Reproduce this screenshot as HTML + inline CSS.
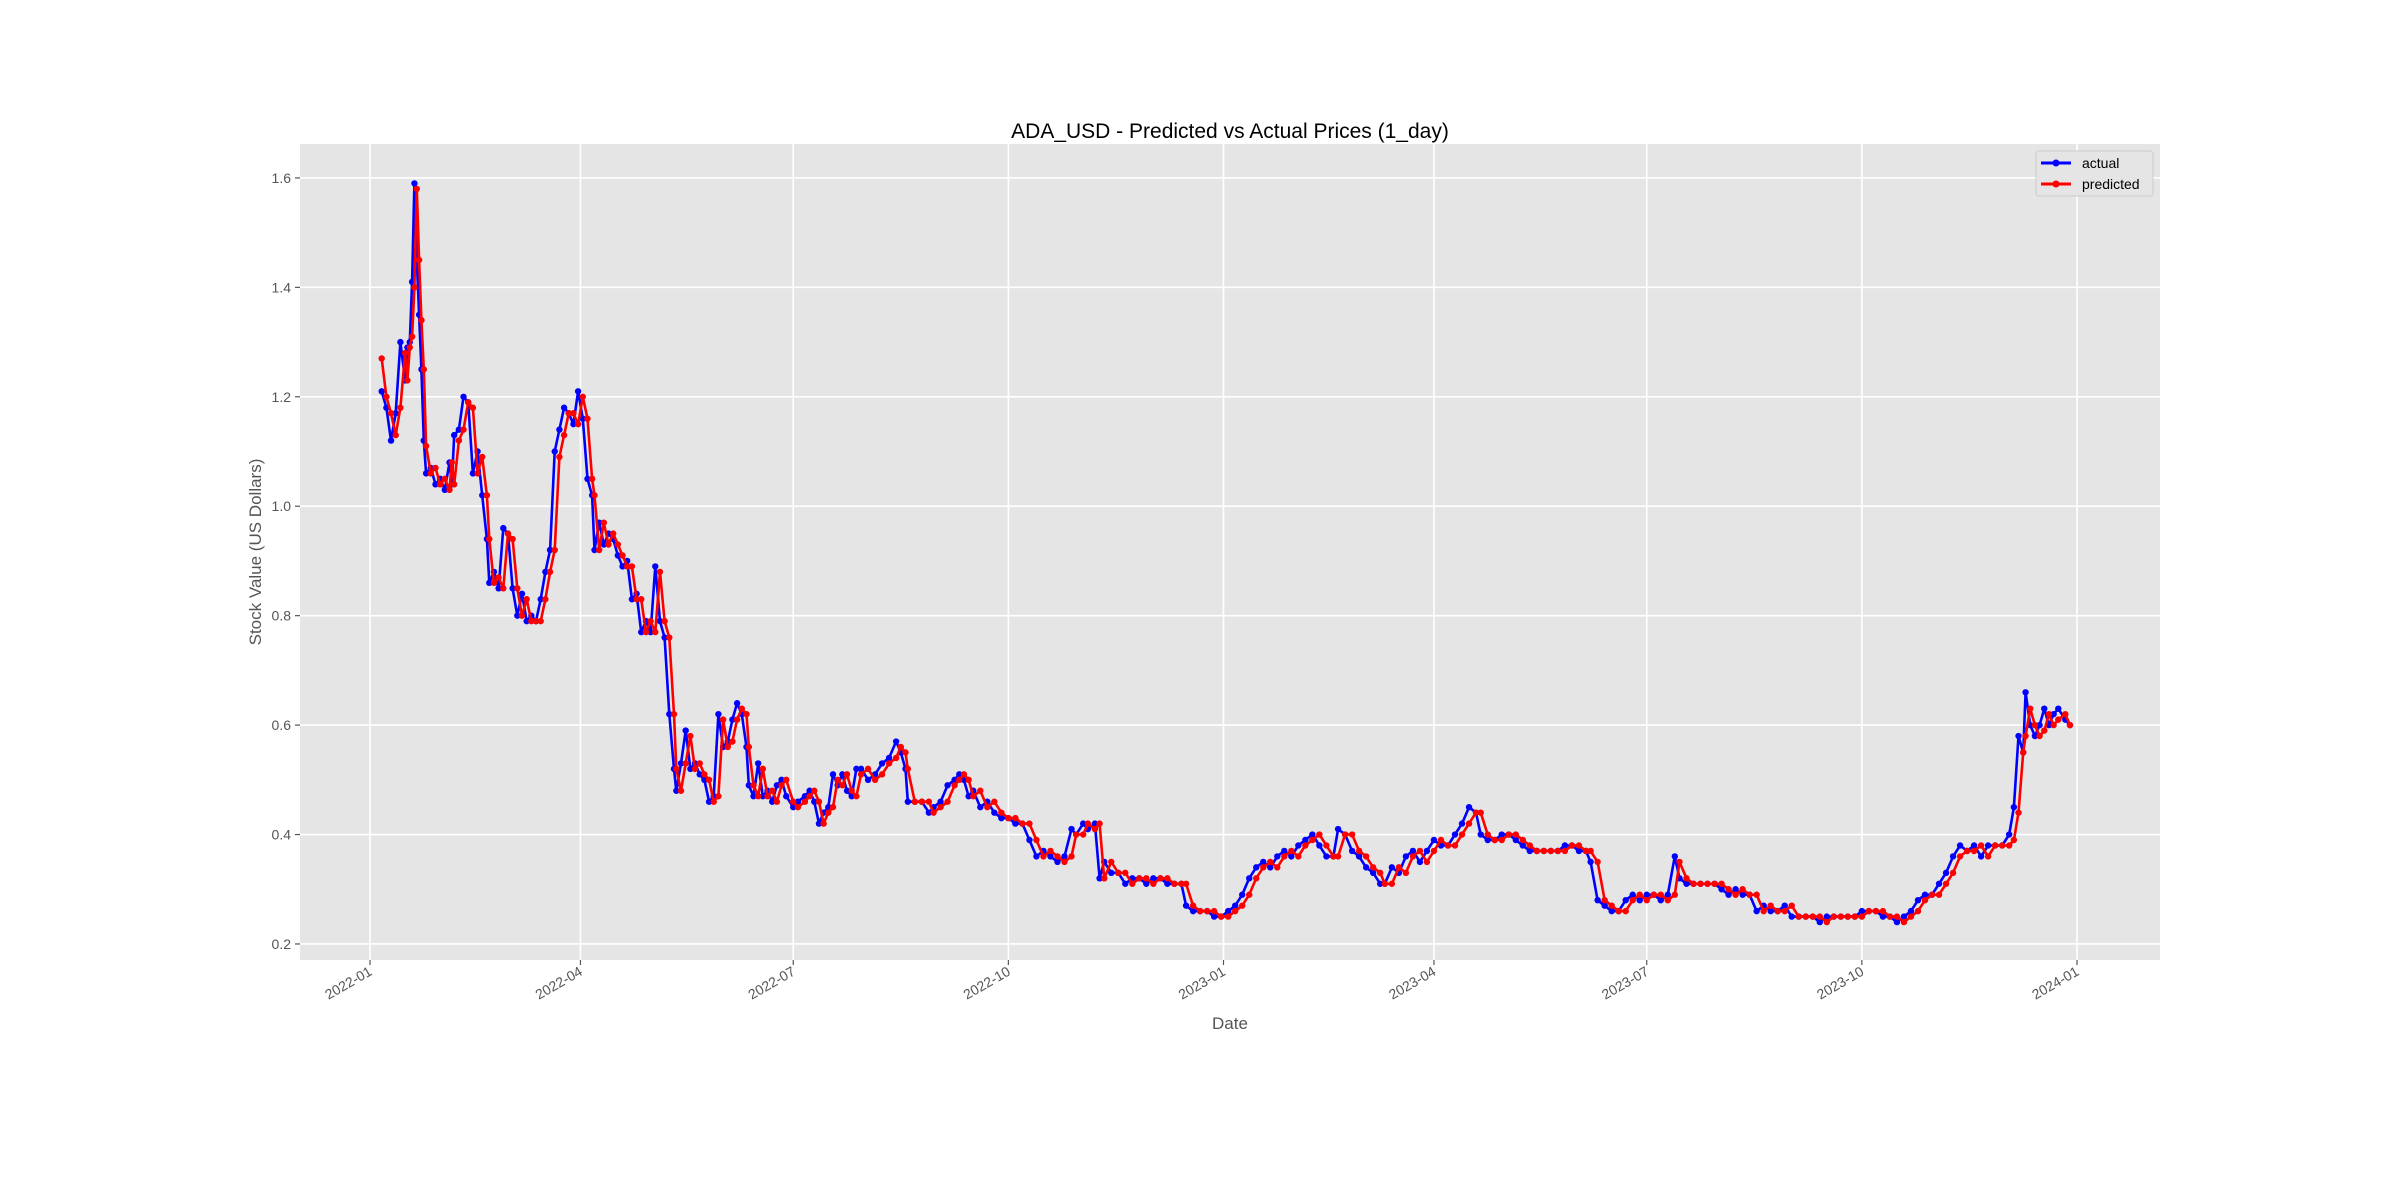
<!DOCTYPE html>
<html><head><meta charset="utf-8"><title>ADA_USD Predicted vs Actual</title>
<style>html,body{margin:0;padding:0;background:#fff}svg{display:block;font-family:"Liberation Sans",sans-serif}</style>
</head><body>
<svg id="chart" width="2400" height="1200" viewBox="0 0 2400 1200" xmlns="http://www.w3.org/2000/svg">
<rect x="0" y="0" width="2400" height="1200" fill="#fff"/>
<rect x="300" y="144" width="1860" height="816" fill="#E5E5E5"/>
<g id="grid"></g>
<g id="series"></g>
<g id="axes"></g>
<text x="1230" y="138" text-anchor="middle" font-size="21" fill="#000">ADA_USD - Predicted vs Actual Prices (1_day)</text>
<text x="1230" y="1029" text-anchor="middle" font-size="17" fill="#555">Date</text>
<text transform="translate(261,552) rotate(-90)" text-anchor="middle" font-size="17" fill="#555">Stock Value (US Dollars)</text>
<g>
<rect x="2036" y="151" width="117" height="45" rx="3" fill="#E5E5E5" stroke="#ccc" stroke-width="1"/>
<g>
<line x1="2041" y1="163" x2="2071" y2="163" stroke="#0000ff" stroke-width="3"/><circle cx="2056" cy="163" r="3.5" fill="#0000ff"/>
<text x="2082" y="168" font-size="14" fill="#000">actual</text></g>
<g>
<line x1="2041" y1="184" x2="2071" y2="184" stroke="#ff0000" stroke-width="3"/><circle cx="2056" cy="184" r="3.5" fill="#ff0000"/>
<text x="2082" y="189" font-size="14" fill="#000">predicted</text></g>
</g>
</svg>
<script>
const dates=["2022-01-06","2022-01-08","2022-01-10","2022-01-12","2022-01-14","2022-01-16","2022-01-17","2022-01-18","2022-01-19","2022-01-20","2022-01-21","2022-01-22","2022-01-23","2022-01-24","2022-01-25","2022-01-27","2022-01-29","2022-01-31","2022-02-02","2022-02-04","2022-02-05","2022-02-06","2022-02-08","2022-02-10","2022-02-12","2022-02-14","2022-02-16","2022-02-18","2022-02-20","2022-02-21","2022-02-23","2022-02-25","2022-02-27","2022-03-01","2022-03-03","2022-03-05","2022-03-07","2022-03-09","2022-03-11","2022-03-13","2022-03-15","2022-03-17","2022-03-19","2022-03-21","2022-03-23","2022-03-25","2022-03-27","2022-03-29","2022-03-31","2022-04-02","2022-04-04","2022-04-06","2022-04-07","2022-04-09","2022-04-11","2022-04-13","2022-04-15","2022-04-17","2022-04-19","2022-04-21","2022-04-23","2022-04-25","2022-04-27","2022-04-29","2022-05-01","2022-05-03","2022-05-05","2022-05-07","2022-05-09","2022-05-11","2022-05-12","2022-05-14","2022-05-16","2022-05-18","2022-05-20","2022-05-22","2022-05-24","2022-05-26","2022-05-28","2022-05-30","2022-06-01","2022-06-03","2022-06-05","2022-06-07","2022-06-09","2022-06-11","2022-06-12","2022-06-14","2022-06-16","2022-06-18","2022-06-20","2022-06-22","2022-06-24","2022-06-26","2022-06-28","2022-07-01","2022-07-03","2022-07-06","2022-07-08","2022-07-10","2022-07-12","2022-07-14","2022-07-16","2022-07-18","2022-07-20","2022-07-22","2022-07-24","2022-07-26","2022-07-28","2022-07-30","2022-08-02","2022-08-05","2022-08-08","2022-08-11","2022-08-14","2022-08-16","2022-08-18","2022-08-19","2022-08-22","2022-08-25","2022-08-28","2022-08-30","2022-09-02","2022-09-05","2022-09-08","2022-09-10","2022-09-12","2022-09-14","2022-09-16","2022-09-19","2022-09-22","2022-09-25","2022-09-28","2022-10-01","2022-10-04","2022-10-07","2022-10-10","2022-10-13","2022-10-16","2022-10-19","2022-10-22","2022-10-25","2022-10-28","2022-10-30","2022-11-02","2022-11-04","2022-11-07","2022-11-09","2022-11-11","2022-11-14","2022-11-17","2022-11-20","2022-11-23","2022-11-26","2022-11-29","2022-12-02","2022-12-05","2022-12-08","2022-12-11","2022-12-14","2022-12-16","2022-12-19","2022-12-22","2022-12-25","2022-12-28","2022-12-31","2023-01-03","2023-01-06","2023-01-09","2023-01-12","2023-01-15","2023-01-18","2023-01-21","2023-01-24","2023-01-27","2023-01-30","2023-02-02","2023-02-05","2023-02-08","2023-02-11","2023-02-14","2023-02-17","2023-02-19","2023-02-22","2023-02-25","2023-02-28","2023-03-03","2023-03-06","2023-03-09","2023-03-11","2023-03-14","2023-03-17","2023-03-20","2023-03-23","2023-03-26","2023-03-29","2023-04-01","2023-04-04","2023-04-07","2023-04-10","2023-04-13","2023-04-16","2023-04-19","2023-04-21","2023-04-24","2023-04-27","2023-04-30","2023-05-03","2023-05-06","2023-05-09","2023-05-12","2023-05-15","2023-05-18","2023-05-21","2023-05-24","2023-05-27","2023-05-30","2023-06-02","2023-06-05","2023-06-07","2023-06-10","2023-06-13","2023-06-16","2023-06-19","2023-06-22","2023-06-25","2023-06-28","2023-07-01","2023-07-04","2023-07-07","2023-07-10","2023-07-13","2023-07-15","2023-07-18","2023-07-21","2023-07-24","2023-07-27","2023-07-30","2023-08-02","2023-08-05","2023-08-08","2023-08-11","2023-08-14","2023-08-17","2023-08-20","2023-08-23","2023-08-26","2023-08-29","2023-09-01","2023-09-04","2023-09-07","2023-09-10","2023-09-13","2023-09-16","2023-09-19","2023-09-22","2023-09-25","2023-09-28","2023-10-01","2023-10-04","2023-10-07","2023-10-10","2023-10-13","2023-10-16","2023-10-19","2023-10-22","2023-10-25","2023-10-28","2023-10-31","2023-11-03","2023-11-06","2023-11-09","2023-11-12","2023-11-15","2023-11-18","2023-11-21","2023-11-24","2023-11-27","2023-11-30","2023-12-03","2023-12-05","2023-12-07","2023-12-09","2023-12-10","2023-12-12","2023-12-14","2023-12-16","2023-12-18","2023-12-20","2023-12-22","2023-12-24","2023-12-27","2023-12-29"];
const actual=[1.21,1.18,1.12,1.17,1.30,1.23,1.29,1.30,1.41,1.59,1.45,1.35,1.25,1.12,1.06,1.07,1.04,1.05,1.03,1.08,1.04,1.13,1.14,1.20,1.19,1.06,1.10,1.02,0.94,0.86,0.88,0.85,0.96,0.95,0.85,0.80,0.84,0.79,0.80,0.79,0.83,0.88,0.92,1.10,1.14,1.18,1.17,1.15,1.21,1.16,1.05,1.02,0.92,0.97,0.93,0.95,0.94,0.91,0.89,0.90,0.83,0.84,0.77,0.79,0.77,0.89,0.79,0.76,0.62,0.52,0.48,0.53,0.59,0.52,0.53,0.51,0.50,0.46,0.47,0.62,0.56,0.57,0.61,0.64,0.62,0.56,0.49,0.47,0.53,0.47,0.48,0.46,0.49,0.50,0.47,0.45,0.46,0.47,0.48,0.46,0.42,0.44,0.45,0.51,0.49,0.51,0.48,0.47,0.52,0.52,0.50,0.51,0.53,0.54,0.57,0.55,0.52,0.46,0.46,0.46,0.44,0.45,0.46,0.49,0.50,0.51,0.50,0.47,0.48,0.45,0.46,0.44,0.43,0.43,0.42,0.42,0.39,0.36,0.37,0.36,0.35,0.36,0.41,0.40,0.42,0.41,0.42,0.32,0.35,0.33,0.33,0.31,0.32,0.32,0.31,0.32,0.32,0.31,0.31,0.31,0.27,0.26,0.26,0.26,0.25,0.25,0.26,0.27,0.29,0.32,0.34,0.35,0.34,0.36,0.37,0.36,0.38,0.39,0.40,0.38,0.36,0.36,0.41,0.40,0.37,0.36,0.34,0.33,0.31,0.31,0.34,0.33,0.36,0.37,0.35,0.37,0.39,0.38,0.38,0.40,0.42,0.45,0.44,0.40,0.39,0.39,0.40,0.40,0.39,0.38,0.37,0.37,0.37,0.37,0.37,0.38,0.38,0.37,0.37,0.35,0.28,0.27,0.26,0.26,0.28,0.29,0.28,0.29,0.29,0.28,0.29,0.36,0.32,0.31,0.31,0.31,0.31,0.31,0.30,0.29,0.30,0.29,0.29,0.26,0.27,0.26,0.26,0.27,0.25,0.25,0.25,0.25,0.24,0.25,0.25,0.25,0.25,0.25,0.26,0.26,0.26,0.25,0.25,0.24,0.25,0.26,0.28,0.29,0.29,0.31,0.33,0.36,0.38,0.37,0.38,0.36,0.38,0.38,0.38,0.40,0.45,0.58,0.55,0.66,0.60,0.58,0.60,0.63,0.60,0.62,0.63,0.61,0.60];
const predicted=[1.27,1.20,1.17,1.13,1.18,1.28,1.23,1.29,1.31,1.40,1.58,1.45,1.34,1.25,1.11,1.06,1.07,1.04,1.05,1.03,1.08,1.04,1.12,1.14,1.19,1.18,1.06,1.09,1.02,0.94,0.86,0.87,0.85,0.95,0.94,0.85,0.80,0.83,0.79,0.79,0.79,0.83,0.88,0.92,1.09,1.13,1.17,1.17,1.15,1.20,1.16,1.05,1.02,0.92,0.97,0.93,0.95,0.93,0.91,0.89,0.89,0.83,0.83,0.77,0.79,0.77,0.88,0.79,0.76,0.62,0.52,0.48,0.53,0.58,0.52,0.53,0.51,0.50,0.46,0.47,0.61,0.56,0.57,0.61,0.63,0.62,0.56,0.49,0.47,0.52,0.47,0.48,0.46,0.49,0.50,0.46,0.45,0.46,0.47,0.48,0.46,0.42,0.44,0.45,0.50,0.49,0.51,0.48,0.47,0.51,0.52,0.50,0.51,0.53,0.54,0.56,0.55,0.52,0.46,0.46,0.46,0.44,0.45,0.46,0.49,0.50,0.51,0.50,0.47,0.48,0.45,0.46,0.44,0.43,0.43,0.42,0.42,0.39,0.36,0.37,0.36,0.35,0.36,0.40,0.40,0.42,0.41,0.42,0.32,0.35,0.33,0.33,0.31,0.32,0.32,0.31,0.32,0.32,0.31,0.31,0.31,0.27,0.26,0.26,0.26,0.25,0.25,0.26,0.27,0.29,0.32,0.34,0.35,0.34,0.36,0.37,0.36,0.38,0.39,0.40,0.38,0.36,0.36,0.40,0.40,0.37,0.36,0.34,0.33,0.31,0.31,0.34,0.33,0.36,0.37,0.35,0.37,0.39,0.38,0.38,0.40,0.42,0.44,0.44,0.40,0.39,0.39,0.40,0.40,0.39,0.38,0.37,0.37,0.37,0.37,0.37,0.38,0.38,0.37,0.37,0.35,0.28,0.27,0.26,0.26,0.28,0.29,0.28,0.29,0.29,0.28,0.29,0.35,0.32,0.31,0.31,0.31,0.31,0.31,0.30,0.29,0.30,0.29,0.29,0.26,0.27,0.26,0.26,0.27,0.25,0.25,0.25,0.25,0.24,0.25,0.25,0.25,0.25,0.25,0.26,0.26,0.26,0.25,0.25,0.24,0.25,0.26,0.28,0.29,0.29,0.31,0.33,0.36,0.37,0.37,0.38,0.36,0.38,0.38,0.38,0.39,0.44,0.55,0.58,0.63,0.60,0.58,0.59,0.62,0.60,0.61,0.62,0.60];
const yTicks=[0.2,0.4,0.6,0.8,1.0,1.2,1.4,1.6];
const yTickLabels=["0.2","0.4","0.6","0.8","1.0","1.2","1.4","1.6"];
const xTicks=["2022-01-01","2022-04-01","2022-07-01","2022-10-01","2023-01-01","2023-04-01","2023-07-01","2023-10-01","2024-01-01"];
const xTickLabels=["2022-01","2022-04","2022-07","2022-10","2023-01","2023-04","2023-07","2023-10","2024-01"];

const NS="http://www.w3.org/2000/svg";
const L=300,R=2160,T=144,B=960;
const x0=Date.parse("2022-01-01"),x1=Date.parse("2024-01-01");
const px0=370,px1=2077;
function xs(d){return px0+(Date.parse(d)-x0)/(x1-x0)*(px1-px0);}
const yMin=0.1707,yMax=1.662;
function ys(v){return B-(v-yMin)/(yMax-yMin)*(B-T);}
function mk(tag,attrs,parent){const e=document.createElementNS(NS,tag);for(const k in attrs)e.setAttribute(k,attrs[k]);parent.appendChild(e);return e;}
const grid=document.getElementById('grid'),axes=document.getElementById('axes'),series=document.getElementById('series');
yTicks.forEach((v,i)=>{const y=ys(v);
 const g=mk('line',{x1:L,x2:R,y1:y,y2:y,stroke:'#fff','stroke-width':1.6},grid);
 
 
 const tk=mk('line',{x1:L-5,x2:L,y1:y,y2:y,stroke:'#555','stroke-width':1.2},axes);
 
 
 const t=mk('text',{x:L-9,y:y+5,'text-anchor':'end','font-size':14,fill:'#555'},axes);
 t.textContent=yTickLabels[i];
 
 
});
xTicks.forEach((d,i)=>{const x=xs(d);
 const g=mk('line',{x1:x,x2:x,y1:T,y2:B,stroke:'#fff','stroke-width':1.6},grid);
 
 
 const tk=mk('line',{x1:x,x2:x,y1:B,y2:B+5,stroke:'#555','stroke-width':1.2},axes);
 
 
 const t=mk('text',{x:x,y:B+15,'text-anchor':'end','font-size':14,fill:'#555',transform:`rotate(-30 ${x} ${B+9})`},axes);
 t.textContent=xTickLabels[i];
 
 
});
function draw(vals,color,name){
 const g=mk('g',{},series);
 
 
 const pts=vals.map((v,i)=>xs(dates[i]).toFixed(1)+','+ys(v).toFixed(1)).join(' ');
 const pl=mk('polyline',{points:pts,fill:'none',stroke:color,'stroke-width':2.6,'stroke-linejoin':'round'},g);
 
 
 vals.forEach((v,i)=>{const c=mk('circle',{cx:xs(dates[i]),cy:ys(v),r:3.2,fill:color},g);
  
  });
}
draw(actual,'#0000ff','actual');
draw(predicted,'#ff0000','predicted');
</script>
</body></html>
